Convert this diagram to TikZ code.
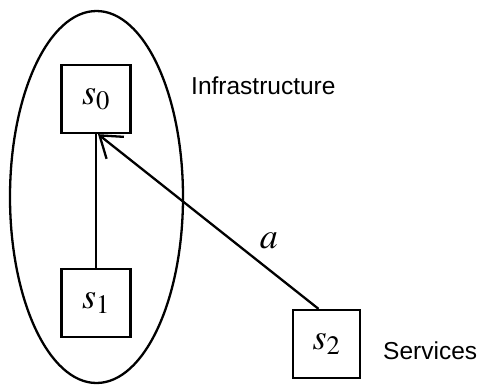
\documentclass[tikz,border=0pt]{standalone}
\usepackage{mathptmx}
\usepackage[no-math]{fontspec}
\setsansfont{Liberation Sans}
\usetikzlibrary{arrows.meta,calc}
\tikzset{
  statebox/.style={draw, line width=2.3pt, minimum width=69pt, minimum height=68pt, inner sep=0pt, font=\fontsize{36}{40}\selectfont},
  lbl/.style={font=\sffamily\fontsize{24.5}{28}\selectfont, inner sep=0pt, anchor=base west},
  conn/.style={line width=2.3pt},
}
\begin{document}
\begin{tikzpicture}[x=1pt,y=-1pt]
\useasboundingbox (0,0) rectangle (483,384);
\draw[line width=2.3pt] (96.5,197) ellipse [x radius=86.5, y radius=186];
\node[statebox] (s0) at (96,99) {$s_0$};
\node[statebox] (s1) at (96,303) {$s_1$};
\node[statebox, minimum width=67pt] (s2) at (326.5,344) {$s_2$};
\node[lbl] (inf) at (191,94) {Infrastructure};
\node[lbl] (serv) at (383,359) {Services};
\coordinate (s2top) at ($(s2.north)+(-8,0)$);
\draw[conn] (s0.south) -- (s1.north);
\draw[conn, -{Straight Barb[length=20pt,width=28pt,line width=2.3pt]}] (s2top) -- node[pos=0.225, yshift=29pt, font=\fontsize{36}{40}\selectfont] (alab) {$a$} ($(s0.south)+(2,0)$);
\end{tikzpicture}
\end{document}
